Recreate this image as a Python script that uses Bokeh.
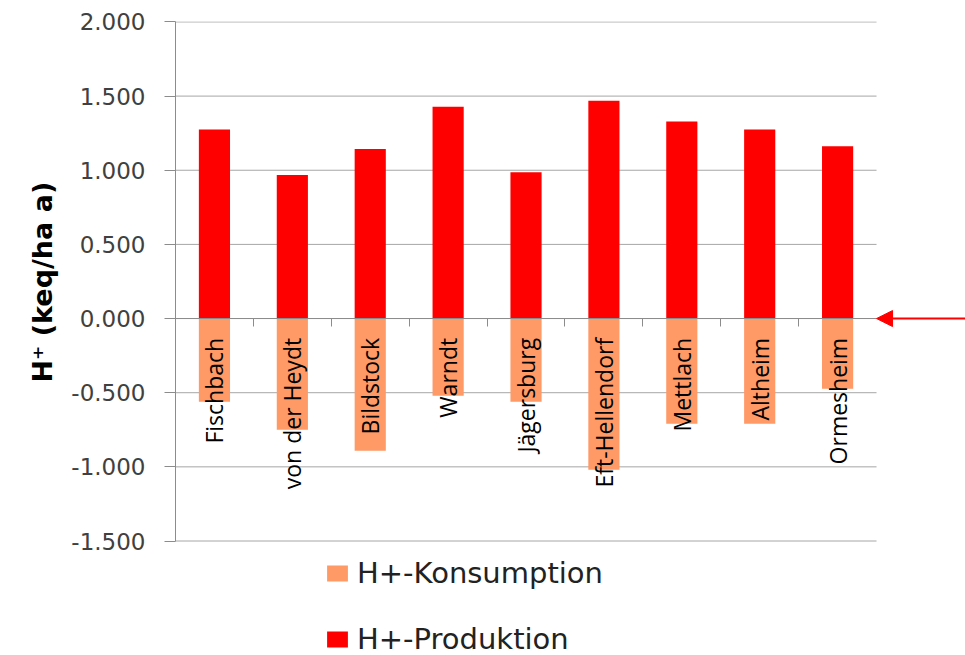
import numpy as np
from bokeh.plotting import figure
from bokeh.models import (Range1d, FixedTicker, NumeralTickFormatter, Legend,
                          LegendItem, Arrow, NormalHead, Title)
from bokeh.core.properties import value
from bokeh.embed import file_html
from bokeh.resources import INLINE

# Sites and annual proton budgets (keq/ha a)
sites = ["Fischbach", "von der Heydt", "Bildstock", "Warndt", "Jägersburg",
         "Eft-Hellendorf", "Mettlach", "Altheim", "Ormesheim"]
produktion = [1.275, 0.968, 1.144, 1.428, 0.986, 1.468, 1.329, 1.275, 1.162]
konsumption = [-0.561, -0.750, -0.892, -0.520, -0.561, -1.020, -0.710, -0.710, -0.473]
y_ticks = [-1.5, -1.0, -0.5, 0.0, 0.5, 1.0, 1.5, 2.0]

ORANGE = "#FF9966"
RED = "#FF0000"
GRID = "#a6a6a6"
AXIS = "#8c8c8c"

n = len(sites)
xc = np.arange(n) + 0.5
x_max = n + 1.142          # room on the right for the marker arrow
y_top = max(y_ticks) + 0.003
y_bottom = -2.272          # room below the axis for the legend

p = figure(width=965, height=655, output_backend="svg", toolbar_location=None,
           x_range=Range1d(0, x_max), y_range=Range1d(y_bottom, y_top),
           min_border_left=175, min_border_right=0, min_border_top=21,
           min_border_bottom=0)
p.outline_line_color = None
p.background_fill_color = "white"
p.border_fill_color = "white"

# horizontal grid lines, only across the site columns
p.segment(x0=[0] * len(y_ticks), x1=[n] * len(y_ticks), y0=y_ticks, y1=y_ticks,
          line_color=GRID, line_width=1, level="underlay")
p.xgrid.grid_line_color = None
p.ygrid.grid_line_color = None

# bars
r_kons = p.vbar(x=xc, top=konsumption, bottom=0, width=0.4,
                fill_color=ORANGE, line_color=None)
r_prod = p.vbar(x=xc, top=produktion, bottom=0, width=0.4,
                fill_color=RED, line_color=None)

# y axis
p.yaxis.bounds = (min(y_ticks), max(y_ticks))
p.yaxis.ticker = FixedTicker(ticks=y_ticks)
p.yaxis.formatter = NumeralTickFormatter(format="0.000")
p.yaxis.axis_line_color = AXIS
p.yaxis.major_tick_line_color = AXIS
p.yaxis.major_tick_out = 11
p.yaxis.major_tick_in = 0
p.yaxis.minor_tick_line_color = None
p.yaxis.major_label_standoff = 19
p.yaxis.major_label_text_font = "DejaVu Sans"
p.yaxis.major_label_text_font_size = "23px"
p.yaxis.major_label_text_color = "#404040"

# y axis title, centred on the bounded axis rather than the whole frame
p.add_layout(Title(text="H⁺ (keq/ha a)", align="left", offset=273,
                   standoff=22,
                   text_font="DejaVu Sans", text_font_style="bold",
                   text_font_size="27px", text_color="black"), "left")

# x axis running through zero, ticks between the sites
p.xaxis.fixed_location = 0
p.xaxis.bounds = (0, n)
p.xaxis.ticker = FixedTicker(ticks=list(range(1, n)))
p.xaxis.major_label_overrides = {i: "" for i in range(1, n)}
p.xaxis.axis_line_color = AXIS
p.xaxis.major_tick_line_color = AXIS
p.xaxis.major_tick_out = 8
p.xaxis.major_tick_in = 0
p.xaxis.minor_tick_line_color = None

# vertical site names hanging just below the zero line
p.text(x=xc, y=[-0.13] * n, text=sites, angle=np.pi / 2,
       text_align="right", text_baseline="middle",
       text_font=value("Open Sans"), text_font_size="23px", text_color="black")

# marker arrow pointing at the zero line
p.add_layout(Arrow(end=NormalHead(size=16, fill_color=RED, line_color=RED),
                   x_start=x_max, y_start=0, x_end=n, y_end=0,
                   line_color=RED, line_width=2))

legend = Legend(items=[LegendItem(label="H+-Konsumption", renderers=[r_kons]),
                       LegendItem(label="H+-Produktion", renderers=[r_prod])],
                location=(149, -1), orientation="vertical",
                glyph_width=26, glyph_height=20, label_height=30, spacing=32,
                label_standoff=7, padding=0, margin=0,
                label_text_font="DejaVu Sans", label_text_font_size="29px",
                label_text_color="#222222",
                border_line_color=None, background_fill_alpha=0)
p.add_layout(legend, "center")

open("out.html", "w").write(file_html(p, INLINE))
